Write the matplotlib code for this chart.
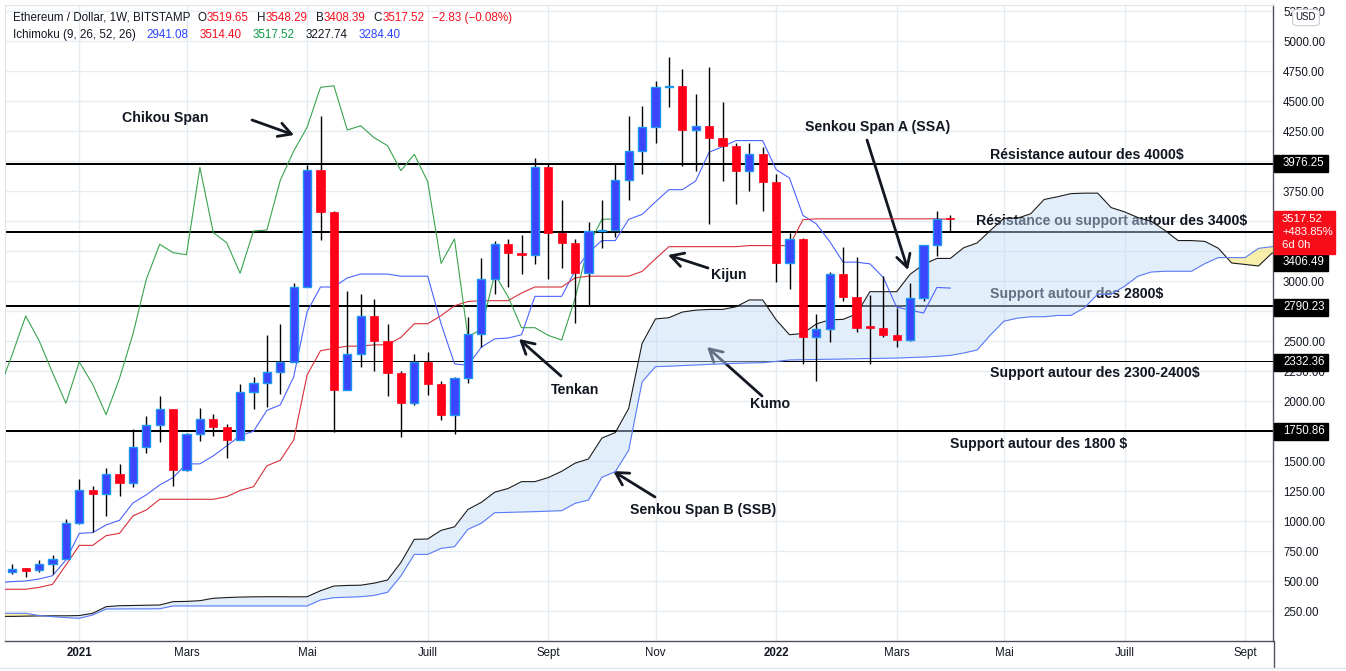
import numpy as np
import matplotlib
matplotlib.use('Agg')
import matplotlib.pyplot as plt
from matplotlib.patches import Rectangle, FancyBboxPatch
from matplotlib.lines import Line2D
from matplotlib.ticker import FuncFormatter

plt.rcParams['font.family'] = ['Liberation Sans', 'DejaVu Sans']

# ---------------- data (weekly ETH/USD, Bitstamp) ----------------
opens = [572, 606, 589, 639, 683, 981, 1258, 1228, 1389, 1314, 1614, 1797, 1931, 1422, 1722, 1847, 1781, 1675,
         2072, 2147, 2239, 2322, 2947, 3925, 3578, 2092, 2389, 2708, 2503, 2236, 1981, 2325, 2139, 1886, 2189,
         2556, 3014, 3306, 3236, 3219, 3947, 3403, 3319, 3064, 3417, 3425, 3839, 4083, 4281, 4614, 4627, 4258,
         4294, 4194, 4128, 3919, 4056, 3828, 3147, 3350, 2536, 2597, 3058, 2869, 2625, 2611, 2547, 2508, 2856,
         3297, 3519.65]
highs = [642, 612, 675, 717, 1014, 1350, 1292, 1442, 1475, 1764, 1878, 2042, 1935, 1736, 1939, 1892, 1806, 2139,
         2203, 2550, 2642, 2981, 3967, 4378, 3583, 2917, 2892, 2850, 2642, 2253, 2392, 2408, 2167, 2203, 2703,
         3194, 3333, 3347, 3383, 4022, 3975, 3675, 3350, 3494, 3675, 3981, 4375, 4458, 4667, 4869, 4764, 4558,
         4786, 4492, 4147, 4147, 4119, 3892, 3397, 3362, 2725, 3075, 3286, 3203, 2883, 3042, 2772, 2986, 3300,
         3586, 3548.29]
lows = [558, 536, 577, 558, 681, 975, 911, 1044, 1211, 1281, 1569, 1661, 1294, 1420, 1669, 1711, 1522, 1675,
        1933, 1953, 2058, 2322, 2947, 3342, 1739, 2092, 2281, 2253, 2042, 1703, 1967, 2050, 1842, 1722, 2153,
        2453, 2892, 2953, 3058, 3142, 3017, 3111, 2653, 2800, 3278, 3369, 3675, 3892, 4153, 4453, 3961, 3919,
        3472, 3836, 3642, 3753, 3586, 2989, 2931, 2308, 2167, 2489, 2836, 2578, 2306, 2536, 2447, 2500, 2833,
        3208, 3408.39]
closes = [597, 586, 639, 683, 981, 1258, 1228, 1389, 1314, 1614, 1797, 1931, 1422, 1722, 1847, 1781, 1675, 2072,
          2147, 2239, 2322, 2947, 3925, 3578, 2092, 2389, 2708, 2503, 2236, 1981, 2325, 2139, 1886, 2189, 2556,
          3014, 3306, 3236, 3219, 3947, 3403, 3319, 3064, 3417, 3425, 3839, 4083, 4281, 4614, 4627, 4258, 4294,
          4194, 4128, 3919, 4056, 3828, 3147, 3350, 2536, 2597, 3058, 2869, 2611, 2611, 2547, 2508, 2856, 3297,
          3514, 3517.52]

# Ichimoku lines (first value sits one bar before the first candle)
tenkan = [485, 495, 500, 517, 544, 675, 897, 903, 967, 1006, 1150, 1218, 1300, 1362, 1476, 1476, 1543, 1626,
          1710, 1748, 1922, 1968, 2201, 2744, 2950, 2950, 3026, 3058, 3058, 3058, 3040, 3040, 3040, 2643, 2310,
          2297, 2448, 2518, 2525, 2552, 2872, 2872, 2872, 3087, 3237, 3337, 3337, 3514, 3555, 3660, 3761, 3761,
          3834, 4073, 4119, 4170, 4170, 4170, 3929, 3858, 3547, 3476, 3329, 3157, 3157, 3143, 3029, 2782, 2758,
          2733, 2946, 2941]
kijun = [431, 431, 431, 447, 472, 633, 797, 797, 878, 897, 1042, 1092, 1181, 1181, 1181, 1181, 1181, 1203, 1254,
         1286, 1460, 1506, 1675, 2217, 2419, 2439, 2457, 2457, 2468, 2468, 2530, 2644, 2644, 2711, 2794, 2829,
         2836, 2836, 2836, 2900, 2950, 2950, 2950, 3026, 3040, 3040, 3040, 3040, 3080, 3185, 3286, 3286, 3286,
         3286, 3286, 3286, 3295, 3295, 3295, 3295, 3511, 3518, 3518, 3518, 3518, 3518, 3518, 3518, 3518, 3518,
         3518, 3514]
ssa = [205, 205, 207, 209, 210, 210, 212, 231, 286, 294, 296, 298, 300, 328, 330, 336, 356, 362, 366, 368, 369,
       369, 368, 369, 419, 458, 463, 465, 482, 508, 654, 847, 850, 922, 951, 1096, 1155, 1240, 1271, 1328, 1328,
       1362, 1414, 1482, 1517, 1691, 1737, 1938, 2480, 2684, 2694, 2741, 2757, 2763, 2763, 2785, 2842, 2842,
       2677, 2552, 2563, 2642, 2677, 2680, 2726, 2911, 2911, 2911, 3056, 3138, 3188, 3188, 3277, 3317, 3422,
       3523, 3523, 3560, 3679, 3702, 3728, 3732, 3732, 3612, 3576, 3529, 3497, 3423, 3337, 3337, 3330, 3273,
       3150, 3138, 3125, 3232, 3228]
ssb = [231, 231, 231, 212, 203, 195, 189, 217, 267, 267, 268, 268, 269, 292, 292, 292, 292, 292, 292, 292, 292,
       292, 292, 292, 342, 361, 365, 369, 380, 406, 542, 722, 722, 772, 786, 931, 981, 1069, 1072, 1075, 1078,
       1082, 1086, 1147, 1175, 1364, 1411, 1590, 2160, 2286, 2290, 2295, 2300, 2305, 2310, 2314, 2317, 2319,
       2330, 2342, 2344, 2346, 2348, 2350, 2352, 2354, 2356, 2358, 2362, 2366, 2372, 2380, 2400, 2425, 2551,
       2665, 2690, 2702, 2702, 2713, 2713, 2776, 2890, 2890, 2956, 3040, 3075, 3081, 3081, 3081, 3145, 3195,
       3195, 3195, 3272, 3286, 3284]

levels = [3976.25, 3406.49, 2790.23, 2332.36, 1750.86]
level_widths = [2, 2, 2, 1, 2]
level_label_y = [163, 262, 307, 362, 431]   # pixel rows of the axis tags

price_ticks = [250, 500, 750, 1000, 1250, 1500, 2000, 2250, 2500, 3000, 3750, 4250, 4500, 4750, 5000, 5250]

month_pos = [5, 13, 22, 31, 40, 48, 57, 66, 74, 83, 92]
month_lab = ['2021', 'Mars', 'Mai', 'Juill', 'Sept', 'Nov', '2022', 'Mars', 'Mai', 'Juill', 'Sept']

# ---------------- figure ----------------
W, H = 1346, 671
fig = plt.figure(figsize=(W / 100, H / 100), dpi=100)
fig.patch.set_facecolor('white')
ax = fig.add_axes([5 / W, 1 - 641 / H, (1273 - 5) / W, (641 - 5) / H])
X0, DX = 12.3, 13.4
ax.set_xlim((5 - X0) / DX, (1273 - X0) / DX)
ax.set_ylim(0, 5300)


def fx(x):
    return x / W


def fy(y):
    return 1 - y / H


DARK = '#131722'
grid_c = '#e4ecf2'
# grid rows every 250 (labels only where the reference shows them)
for gy in np.arange(250, 5251, 250):
    ax.axhline(gy, color=grid_c, lw=1, zorder=0)
ax.set_yticks(price_ticks)
ax.yaxis.set_major_formatter(FuncFormatter(lambda v, p: f'{v:.2f}'))
ax.yaxis.tick_right()
ax.tick_params(axis='y', length=0, pad=7.2, labelsize=8.3, labelcolor=DARK)
ax.set_xticks(month_pos)
ax.set_xticklabels(month_lab)
ax.tick_params(axis='x', length=0, pad=4.5, labelsize=8.3, labelcolor=DARK)
for t in ax.get_xticklabels():
    if t.get_text() in ('2021', '2022'):
        t.set_fontweight('bold')
ax.grid(True, axis='x', color=grid_c, lw=1, zorder=0)
ax.set_axisbelow(True)
for s in ('top', 'left'):
    ax.spines[s].set_color('#e0e3eb')
for s in ('right', 'bottom'):
    ax.spines[s].set_color('#50535e')
    ax.spines[s].set_linewidth(1)

# horizontal levels
for lv, lw in zip(levels, level_widths):
    ax.axhline(lv, color='black', lw=lw * 0.72, zorder=1.5)

# annotation texts (under the cloud fill)
ann_kw = dict(transform=fig.transFigure, fontsize=10.2, fontweight='bold', color=DARK,
              va='center', ha='left', zorder=2)
ax.text(fx(122), fy(118), 'Chikou Span', **ann_kw)
ax.text(fx(551), fy(390), 'Tenkan', **ann_kw)
ax.text(fx(711), fy(275), 'Kijun', **ann_kw)
ax.text(fx(750), fy(404), 'Kumo', **ann_kw)
ax.text(fx(630), fy(510), 'Senkou Span B (SSB)', **ann_kw)
ax.text(fx(805), fy(127), 'Senkou Span A (SSA)', **ann_kw)
ax.text(fx(990), fy(155), 'Résistance autour des 4000$', **ann_kw)
ax.text(fx(976), fy(221), 'Résistance ou support autour des 3400$', **ann_kw)
ax.text(fx(990), fy(294), 'Support autour des 2800$', **ann_kw)
ax.text(fx(990), fy(373), 'Support autour des 2300-2400$', **ann_kw)
ax.text(fx(950), fy(444), 'Support autour des 1800 $', **ann_kw)


def arrow(x1, y1, x2, y2):
    ax.annotate('', xy=(fx(x2), fy(y2)), xytext=(fx(x1), fy(y1)),
                xycoords='figure fraction', textcoords='figure fraction',
                arrowprops=dict(arrowstyle='->,head_length=0.9,head_width=0.5', lw=2,
                                color=DARK, shrinkA=0, shrinkB=0), zorder=2)


arrow(252, 120, 294, 135)
arrow(561, 376, 519, 339)
arrow(708, 268, 668, 255)
arrow(762, 396, 707, 347)
arrow(655, 497, 613, 471)
arrow(867, 140, 908, 270)

# cloud
xs_cloud = np.arange(-1, -1 + len(ssa))
a = np.array(ssa, float)
b = np.array(ssb, float)
ax.fill_between(xs_cloud, a, b, where=a >= b, interpolate=True, color='#c3daf7', alpha=0.46, lw=0, zorder=3)
ax.fill_between(xs_cloud, a, b, where=a < b, interpolate=True, color='#f5e15a', alpha=0.5, lw=0, zorder=3)
ax.plot(xs_cloud, a, color='#1c1c1c', lw=0.8, zorder=4)
ax.plot(xs_cloud, b, color='#5b7bf5', lw=0.8, zorder=4)

# tenkan / kijun / chikou
ax.plot(np.arange(-1, -1 + len(tenkan)), tenkan, color='#4b64ff', lw=0.8, zorder=4.2)
ax.plot(np.arange(-1, -1 + len(kijun)), kijun, color='#d9303c', lw=0.8, zorder=4.2)
C = np.array(closes, float)
ax.plot(np.arange(24, len(C)) - 25, C[24:], color='#3ba34e', lw=0.8, zorder=4.2)

# candles
O = np.array(opens, float)
Hh = np.array(highs, float)
Ll = np.array(lows, float)
idx = np.arange(len(O))
up = C >= O
bottom = np.minimum(O, C)
height = np.maximum(np.abs(C - O), 9)
ax.vlines(idx, Ll, Hh, color='black', lw=1, zorder=5)
ax.bar(idx[up], height[up], bottom=bottom[up], width=0.62, color='#3b45fd', edgecolor='#1e96f0',
       linewidth=1, zorder=6)
ax.bar(idx[~up], height[~up], bottom=bottom[~up], width=0.62, color='#ff0019', edgecolor='#ff0019',
       linewidth=0.5, zorder=6)

# ---------------- price-axis tags ----------------
for lv, yy in zip(levels, level_label_y):
    fig.add_artist(Rectangle((fx(1274), fy(yy + 8.5)), 54 / W, 17 / H, color='black', zorder=10))
    fig.text(fx(1283), fy(yy), f'{lv:.2f}', color='white', fontsize=8.3, va='center', ha='left', zorder=11)
fig.add_artist(Rectangle((fx(1274), fy(254)), 61 / W, 43 / H, color='#f70d1a', zorder=12))
for s, yy in zip(['3517.52', '+483.85%', '6d 0h'], [219, 232, 245]):
    fig.text(fx(1282), fy(yy), s, color='white', fontsize=8.1, va='center', ha='left', zorder=13)
fig.add_artist(FancyBboxPatch((fx(1294), fy(25)), 24 / W, 15 / H,
                              boxstyle='round,pad=0.001,rounding_size=0.004',
                              facecolor='white', edgecolor='#c9ccd4', lw=0.8, zorder=10))
fig.text(fx(1306), fy(17.5), 'USD', color=DARK, fontsize=7, va='center', ha='center', zorder=11)
fig.add_artist(Line2D([fx(1273.5), fx(1273.5)], [fy(641), fy(667)], color='#50535e', lw=1, zorder=10))
fig.add_artist(Line2D([0, 1], [fy(667.5), fy(667.5)], color='#e0e3eb', lw=1, zorder=10))

# ---------------- header ----------------
fig.canvas.draw()
r = fig.canvas.get_renderer()


def seq(y, x0, parts):
    x = x0
    for s, col, gap in parts:
        t = fig.text(fx(x), fy(y), s, color=col, fontsize=8.4, va='center', ha='left', zorder=20)
        w = t.get_window_extent(renderer=r).width
        x += w + gap


RED = '#f50f1f'
BLUE = '#2a45ff'
seq(18, 13, [('Ethereum / Dollar, 1W, BITSTAMP', DARK, 7), ('O', DARK, 0.5), ('3519.65', RED, 8),
             ('H', DARK, 0.5), ('3548.29', RED, 8), ('B', DARK, 0.5), ('3408.39', RED, 8),
             ('C', DARK, 0.5), ('3517.52', RED, 7), ('\u22122.83 (\u22120.08%)', RED, 0)])
seq(35, 13, [('Ichimoku (9, 26, 52, 26)', DARK, 11), ('2941.08', BLUE, 11), ('3514.40', RED, 11),
             ('3517.52', '#0c9a45', 11), ('3227.74', DARK, 11), ('3284.40', BLUE, 0)])

fig.savefig('out.png', dpi=100, facecolor='white')
